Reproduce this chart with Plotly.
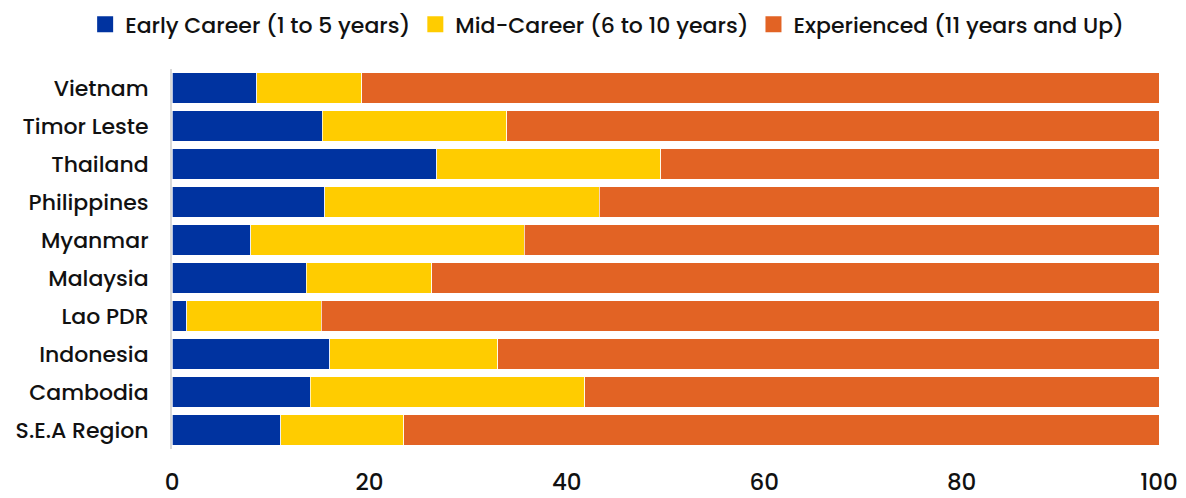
import plotly.graph_objects as go

# categories listed top to bottom
countries = ["Vietnam", "Timor Leste", "Thailand", "Philippines", "Myanmar",
             "Malaysia", "Lao PDR", "Indonesia", "Cambodia", "S.E.A Region"]
early_career = [8.6, 15.2, 26.8, 15.5, 8.0, 13.6, 1.5, 16.0, 14.0, 11.0]
mid_career = [10.6, 18.7, 22.7, 27.8, 27.7, 12.7, 13.6, 17.0, 27.8, 12.5]
experienced = [80.8, 66.1, 50.5, 56.7, 64.3, 73.7, 84.9, 67.0, 58.2, 76.5]
x_ticks = [0, 20, 40, 60, 80, 100]

series = [
    ("Early Career (1 to 5 years)", early_career, "#0033a0"),
    ("Mid-Career (6 to 10 years)", mid_career, "#ffcc00"),
    ("Experienced (11 years and Up)", experienced, "#e26324"),
]

fig = go.Figure()
for name, vals, color in series:
    fig.add_trace(go.Bar(
        name=name,
        y=countries,
        x=vals,
        orientation="h",
        showlegend=False,
        marker=dict(color=color, line=dict(color="rgba(255,255,255,0.7)", width=1)),
    ))
    # legend-only entry with a bigger square swatch
    fig.add_trace(go.Scatter(
        name=name,
        x=[None], y=[None],
        mode="markers",
        marker=dict(symbol="square", size=18, color=color),
    ))

fig.update_layout(
    barmode="stack",
    bargap=0.21,
    width=1186,
    height=498,
    margin=dict(l=164, r=35, t=61, b=57, autoexpand=False),
    plot_bgcolor="white",
    paper_bgcolor="white",
    font=dict(family="Poppins, Lato, sans-serif", size=22, color="#111111", weight=500),
    legend=dict(
        orientation="h",
        x=-0.088, xanchor="left",
        y=1.117, yanchor="middle",
        font=dict(size=22, weight=500),
        traceorder="normal",
        itemwidth=30,
    ),
    xaxis=dict(
        range=[0, 100],
        tickvals=x_ticks,
        showgrid=False,
        zeroline=False,
        automargin=False,
        tickfont=dict(size=23, weight=500),
        ticklabelstandoff=17,
    ),
    yaxis=dict(
        autorange="reversed",
        showline=True,
        linecolor="#d9d9d9",
        linewidth=2,
        ticks="",
        automargin=False,
        ticklabelstandoff=17,
        tickfont=dict(size=22, weight=500),
    ),
)

fig.write_html("out.html")
